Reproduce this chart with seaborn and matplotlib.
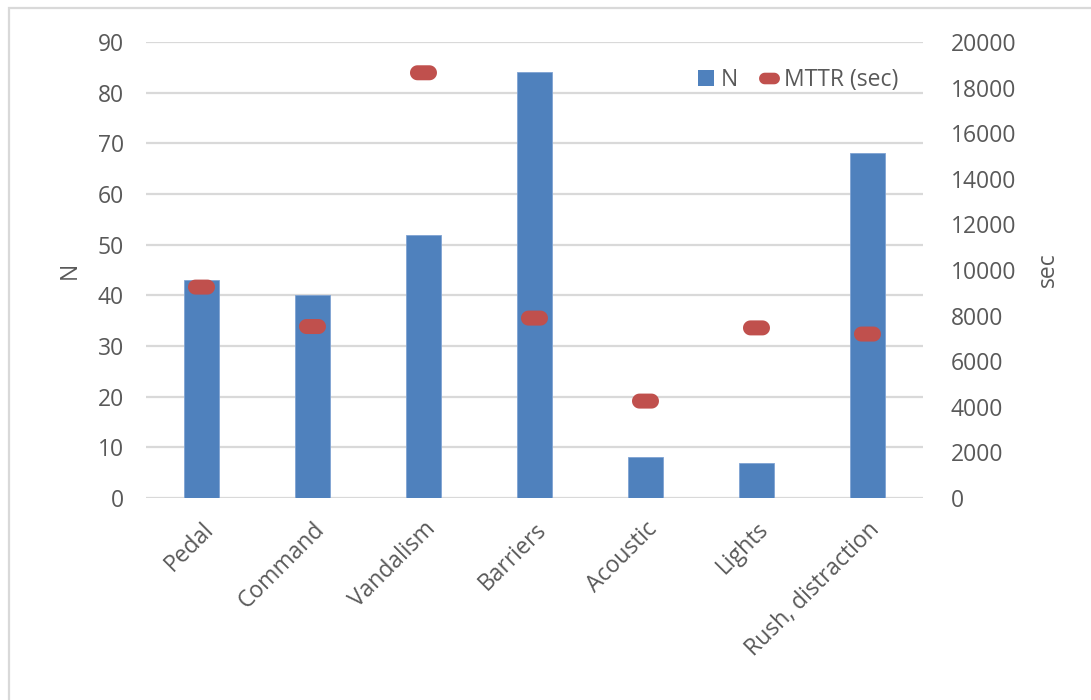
import numpy as np
import pandas as pd
import matplotlib
matplotlib.use("Agg")
import matplotlib.pyplot as plt
from matplotlib.path import Path
from matplotlib.patches import Patch, Rectangle
from matplotlib.lines import Line2D
import seaborn as sns

# Failure causes, number of occurrences and mean time to repair
categories = ["Pedal", "Command", "Vandalism", "Barriers", "Acoustic", "Lights", "Rush, distraction"]
n_counts = [43, 40, 52, 84, 8, 7, 68]
mttr_sec = [9250, 7520, 18650, 7890, 4250, 7460, 7190]
left_ticks = [0, 10, 20, 30, 40, 50, 60, 70, 80, 90]
right_ticks = [0, 2000, 4000, 6000, 8000, 10000, 12000, 14000, 16000, 18000, 20000]

BAR_BLUE = "#4F81BD"
MARK_RED = "#C0504D"
TEXT_GRAY = "#595959"
GRID_GRAY = "#D9D9D9"

sns.set_theme(style="white")
plt.rcParams["font.family"] = ["Open Sans", "DejaVu Sans"]

df = pd.DataFrame({"cause": categories, "N": n_counts, "MTTR": mttr_sec})
df["pos"] = np.arange(len(df))

# Rounded dash marker (stadium shape) for the MTTR series
r = 0.556
cx = 1.0 - r
theta_r = np.linspace(-np.pi / 2, np.pi / 2, 20)
theta_l = np.linspace(np.pi / 2, 3 * np.pi / 2, 20)
verts = np.concatenate([
    np.column_stack([cx + r * np.cos(theta_r), r * np.sin(theta_r)]),
    np.column_stack([-cx + r * np.cos(theta_l), r * np.sin(theta_l)]),
])
verts = np.vstack([verts, verts[:1]])
codes = [Path.MOVETO] + [Path.LINETO] * (len(verts) - 2) + [Path.CLOSEPOLY]
stadium = Path(verts, codes)

fig = plt.figure(figsize=(10.91, 7.0), dpi=100)
ax = fig.add_axes([0.1338, 0.2886, 0.7122, 0.6514])

sns.barplot(data=df, x="cause", y="N", color=BAR_BLUE, saturation=1,
            width=0.31, edgecolor="#7FA3D3", linewidth=0.6, ax=ax, zorder=3)
ax.set_xlim(-0.5, len(categories) - 0.5)
ax.set_ylim(0, 90)
ax.set_yticks(left_ticks)
ax.yaxis.grid(True, color=GRID_GRAY, linewidth=1.6, zorder=0)
ax.set_axisbelow(True)
for s in ax.spines.values():
    s.set_visible(False)
ax.tick_params(axis="both", length=0, labelsize=16.5, labelcolor=TEXT_GRAY)
ax.tick_params(axis="y", pad=16)
ax.tick_params(axis="x", pad=14)
ax.set_xlabel("")
ax.set_ylabel("N", fontsize=16.5, color=TEXT_GRAY, labelpad=11)
for lbl in ax.get_xticklabels():
    lbl.set_rotation(45)
    lbl.set_ha("right")
    lbl.set_rotation_mode("anchor")

ax2 = ax.twinx()
sns.scatterplot(data=df, x="pos", y="MTTR", marker=stadium, s=19.4 ** 2,
                color=MARK_RED, edgecolor="none", ax=ax2, zorder=4, legend=False)
ax2.set_ylim(0, 20000)
ax2.set_yticks(right_ticks)
ax2.set_xlim(-0.5, len(categories) - 0.5)
for s in ax2.spines.values():
    s.set_visible(False)
ax2.tick_params(axis="y", length=0, labelsize=16.5, labelcolor=TEXT_GRAY, pad=20)
ax2.set_ylabel("sec", fontsize=16.5, color=TEXT_GRAY, labelpad=14)
ax2.set_xlabel("")

handles = [
    Patch(facecolor=BAR_BLUE, edgecolor="none", label="N"),
    Line2D([], [], linestyle="none", marker=stadium, markersize=15,
           markerfacecolor=MARK_RED, markeredgecolor="none", label="MTTR (sec)"),
]
leg = ax2.legend(handles=handles, ncol=2, frameon=False, loc="upper right",
                 bbox_to_anchor=(0.968, 0.942), fontsize=16.5, handlelength=0.7,
                 handleheight=0.7, handletextpad=0.3, columnspacing=1.0,
                 borderaxespad=0.0, borderpad=0.0)
for t in leg.get_texts():
    t.set_color(TEXT_GRAY)

# Light frame around the chart area
fig.add_artist(Rectangle((9 / 1091, -0.1), 1.2, 1.0886, transform=fig.transFigure,
                         fill=False, edgecolor=GRID_GRAY, linewidth=1.6))

fig.savefig("out.png", dpi=100, facecolor="white")
